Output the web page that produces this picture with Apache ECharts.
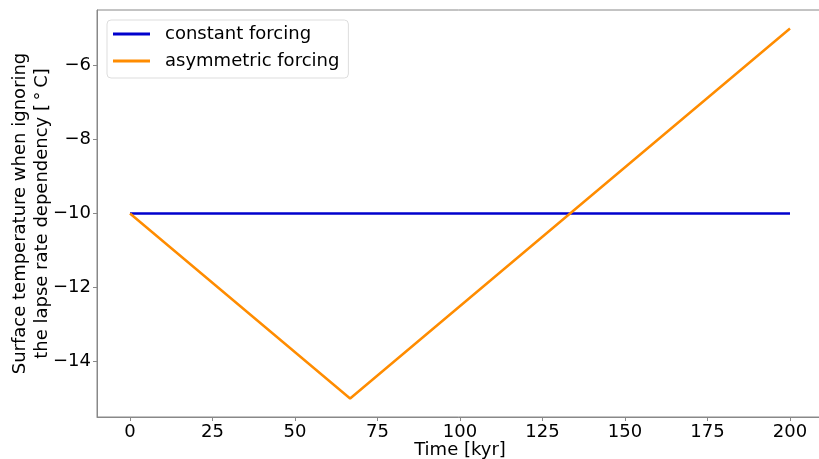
<!DOCTYPE html>
<html>
<head>
<meta charset="utf-8">
<script src="https://cdn.jsdelivr.net/npm/echarts@6/dist/echarts.min.js"></script>
<style>
  html, body { margin: 0; padding: 0; background: #fff; }
  #chart { width: 819px; height: 459px; }
</style>
</head>
<body>
<div id="chart"></div>
<script>
const constTime = [0, 200];
const constTemp = [-10, -10];
const asymTime = [0, 66.7, 200];
const asymTemp = [-10, -15, -5];
const xTicks = [0, 25, 50, 75, 100, 125, 150, 175, 200];
const yTicks = [-14, -12, -10, -8, -6];

const chart = echarts.init(document.getElementById('chart'));
const font = 'DejaVu Sans';

const option = {
  animation: false,
  textStyle: { fontFamily: font },
  grid: {
    left: 97,
    top: 10,
    right: -4,
    bottom: 42,
    outerBoundsMode: 'none',
    containLabel: false,
    show: true,
    borderColor: '#888',
    borderWidth: 1,
  },
  legend: {
    left: 107,
    top: 20,
    orient: 'vertical',
    icon: 'rect',
    itemWidth: 37,
    itemHeight: 3,
    itemGap: 9,
    padding: [5, 9, 8, 6],
    borderColor: '#ddd',
    borderWidth: 1,
    borderRadius: 4,
    textStyle: { fontSize: 18, color: '#000', fontFamily: font, padding: [0, 0, 0, 10] },
    data: ['constant forcing', 'asymmetric forcing'],
  },
  xAxis: {
    type: 'value',
    min: -10,
    max: 210,
    name: 'Time [kyr]',
    nameLocation: 'middle',
    nameGap: 24,
    nameMoveOverlap: false,
    nameTextStyle: { fontSize: 18, color: '#000', fontFamily: font, verticalAlign: 'top' },
    axisLine: { onZero: false, lineStyle: { color: '#888', width: 1 } },
    axisTick: { show: true, customValues: xTicks, length: 4, lineStyle: { color: '#888' } },
    axisLabel: { customValues: xTicks, fontSize: 18, color: '#000', margin: 6, fontFamily: font },
    splitLine: { show: false },
  },
  yAxis: {
    type: 'value',
    min: -15.5,
    max: -4.5,
    name: 'Surface temperature when ignoring\nthe lapse rate dependency [\u2009\u00b0\u2009C]',
    nameLocation: 'middle',
    nameRotate: 90,
    nameGap: 44,
    nameMoveOverlap: false,
    nameTextStyle: { fontSize: 18, color: '#000', fontFamily: font, lineHeight: 22 },
    axisLine: { show: true, onZero: false, lineStyle: { color: '#888', width: 1 } },
    axisTick: { show: true, customValues: yTicks, length: 4, lineStyle: { color: '#888' } },
    axisLabel: {
      customValues: yTicks,
      fontSize: 18,
      color: '#000',
      margin: 6,
      fontFamily: font,
      formatter: (v) => String(v).replace('-', '\u2212'),
    },
    splitLine: { show: false },
  },
  series: [
    {
      name: 'constant forcing',
      type: 'line',
      showSymbol: false,
      color: '#0000cd',
      lineStyle: { width: 2.5 },
      data: constTime.map((t, i) => [t, constTemp[i]]),
    },
    {
      name: 'asymmetric forcing',
      type: 'line',
      showSymbol: false,
      color: '#ff8c00',
      lineStyle: { width: 2.5 },
      data: asymTime.map((t, i) => [t, asymTemp[i]]),
    },
  ],
};

chart.setOption(option);
</script>
</body>
</html>
